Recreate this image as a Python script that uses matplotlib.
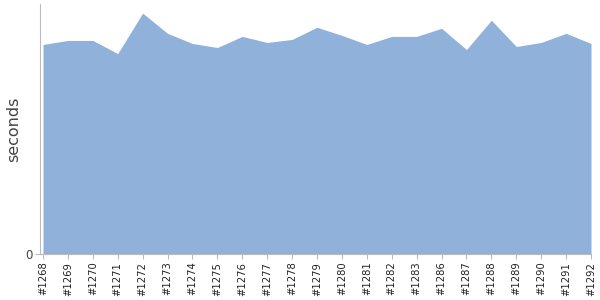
import matplotlib
matplotlib.use("Agg")
import matplotlib.pyplot as plt

builds = ["#1268", "#1269", "#1270", "#1271", "#1272", "#1273", "#1274", "#1275",
          "#1276", "#1277", "#1278", "#1279", "#1280", "#1281", "#1282", "#1283",
          "#1286", "#1287", "#1288", "#1289", "#1290", "#1291", "#1292"]
seconds = [20.7, 21.1, 21.1, 19.8, 23.8, 21.8, 20.8, 20.4, 21.5, 20.9, 21.2, 22.4,
           21.6, 20.7, 21.5, 21.5, 22.3, 20.2, 23.1, 20.5, 20.9, 21.8, 20.8]

grey = "#bbbbbb"
x = list(range(len(builds)))

fig = plt.figure(figsize=(6, 3), dpi=100)
ax = fig.add_axes([40 / 600, 1 - 254 / 300, 551 / 600, 250 / 300])
ax.fill_between(x, 0, seconds, color="#8fb1da", linewidth=0)

ax.set_xlim(-0.12, len(builds) - 1)
ax.set_ylim(0, 24.7)
ax.set_xticks(x)
ax.set_xticklabels(builds, rotation=90, fontsize=7.2, color="#222222")
ax.set_yticks([0])
ax.set_yticklabels(["0"], fontsize=8.5, color="#444444")
ax.set_ylabel("seconds", fontsize=11.5, color="#444444")
ax.yaxis.set_label_coords(-0.035, 0.5)

for side in ("top", "right"):
    ax.spines[side].set_visible(False)
for side in ("left", "bottom"):
    ax.spines[side].set_color(grey)
ax.tick_params(axis="both", color=grey, length=3.5, width=0.8, pad=2)

fig.savefig("out.png", dpi=100)
